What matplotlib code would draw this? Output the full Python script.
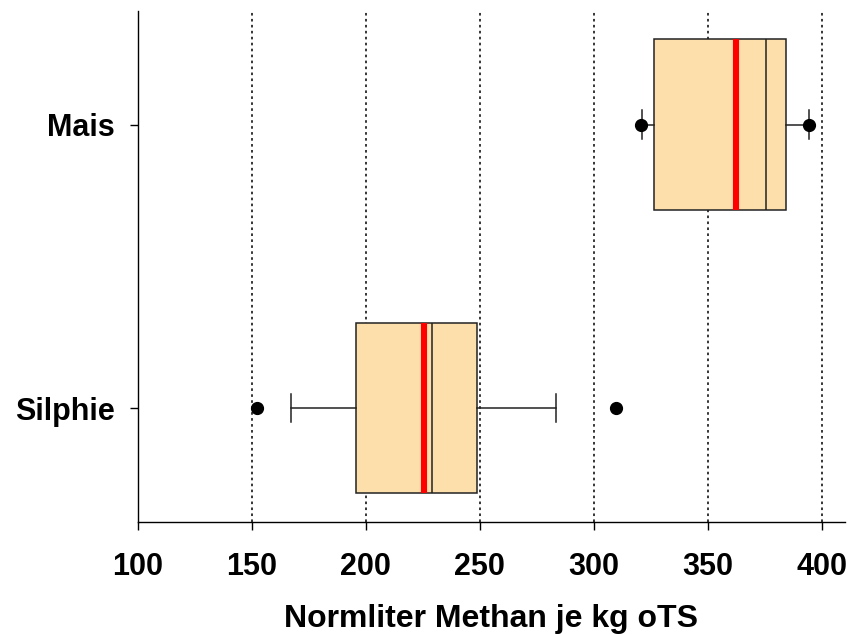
import matplotlib
matplotlib.use("Agg")
import matplotlib.pyplot as plt

categories = ["Silphie", "Mais"]
q1 = [195.6, 326.3]
median = [228.9, 375.4]
q3 = [248.7, 384.2]
mean = [225.7, 362.4]
whisker_low = [167.3, 321.2]
whisker_high = [283.4, 394.4]
fliers = [[152.4, 309.6], [320.5, 394.4]]
xticks = [100, 150, 200, 250, 300, 350, 400]
xlabel = "Normliter Methan je kg oTS"

plt.rcParams['font.family'] = ['Liberation Sans', 'DejaVu Sans']
plt.rcParams['font.weight'] = 'bold'

fig = plt.figure(figsize=(8.49, 6.34), dpi=100)
ax = fig.add_axes([0.1622, 0.1771, 0.8331, 0.8055])

stats = []
for i, name in enumerate(categories):
    stats.append(dict(label=name, q1=q1[i], med=median[i], q3=q3[i],
                      mean=mean[i], whislo=whisker_low[i], whishi=whisker_high[i],
                      fliers=fliers[i]))

positions = list(range(1, len(categories) + 1))
ax.bxp(stats, positions=positions, vert=False, widths=0.6, capwidths=0.1,
       patch_artist=True, showmeans=True, meanline=True,
       boxprops=dict(facecolor='#FDDFAC', edgecolor='#222222', linewidth=1.1),
       medianprops=dict(color='#222222', linewidth=1.1),
       meanprops=dict(color='#FF0000', linewidth=4.4, linestyle='-'),
       whiskerprops=dict(color='#222222', linewidth=1.1),
       capprops=dict(color='#222222', linewidth=1.1),
       flierprops=dict(marker='o', markerfacecolor='black', markeredgecolor='black',
                       markersize=8.5),
       zorder=3)

ax.set_xlim(100, 410.1)
ax.set_ylim(0.6, 2.4)
ax.set_xticks(xticks)
ax.set_xticklabels([str(t) for t in xticks], fontsize=22, fontweight='bold')
ax.set_yticks(positions)
ax.set_yticklabels(categories, fontsize=22, fontweight='bold')
ax.set_xlabel(xlabel, fontsize=23, fontweight='bold', labelpad=16)

for x in xticks[1:]:
    ax.axvline(x, color='black', linewidth=1.1, linestyle=(0, (1.7, 2.2)), zorder=1)

for s in ['top', 'right']:
    ax.spines[s].set_visible(False)
for s in ['left', 'bottom']:
    ax.spines[s].set_linewidth(1.0)
    ax.spines[s].set_color('black')
ax.tick_params(axis='x', direction='out', length=5.8, width=1.0, pad=16)
ax.tick_params(axis='y', direction='out', length=5.8, width=1.0, pad=11)

fig.savefig("out.png", dpi=100)
